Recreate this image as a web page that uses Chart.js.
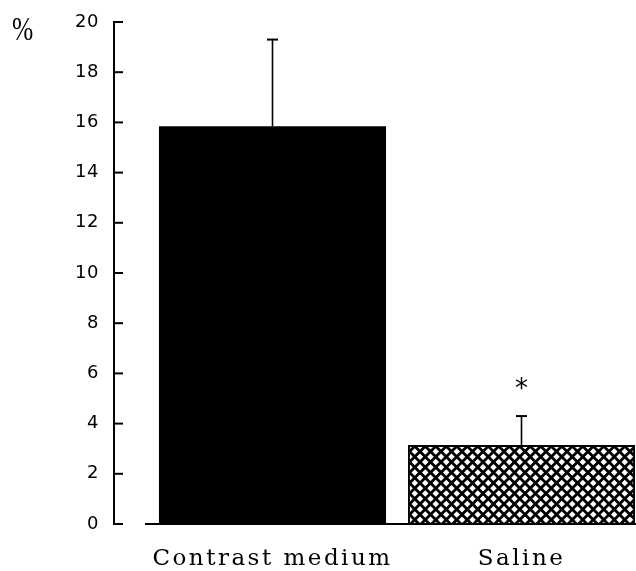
<!DOCTYPE html>
<html>
<head>
<meta charset="utf-8">
<script src="https://cdn.jsdelivr.net/npm/chart.js@4.4.1/dist/chart.umd.min.js"></script>
<style>
  html, body { margin: 0; padding: 0; background: #fff; overflow: hidden; }
  #wrap { width: 660px; height: 571px; }
</style>
</head>
<body>
<div id="wrap"><canvas id="chart" width="660" height="571"></canvas></div>
<script>
const groups = ['Contrast medium', 'Saline'];
const means = [15.85, 3.15];
const errors = [3.45, 1.15];
const marks = ['', '*'];
const yTicks = [0, 2, 4, 6, 8, 10, 12, 14, 16, 18, 20];

// cross-hatch for the saline bar
function makeHatch() {
  const tile = document.createElement('canvas');
  tile.width = 21;
  tile.height = 21;
  const c = tile.getContext('2d');
  c.fillStyle = '#fff';
  c.fillRect(0, 0, 21, 21);
  c.strokeStyle = '#000';
  c.lineWidth = 2.8;
  for (let k = -42; k <= 42; k += 10.5) {
    c.beginPath();
    c.moveTo(k, 0);
    c.lineTo(k + 21, 21);
    c.stroke();
    c.beginPath();
    c.moveTo(k, 21);
    c.lineTo(k + 21, 0);
    c.stroke();
  }
  return c.createPattern(tile, 'repeat');
}

const ctx = document.getElementById('chart').getContext('2d');
const hatch = makeHatch();

const decor = {
  id: 'decor',
  beforeDraw: (chart) => {
    // wide spacing for the category labels (x labels are drawn first)
    chart.ctx.letterSpacing = '2.5px';
  },
  afterDatasetsDraw: (chart) => {
    const { ctx, scales } = chart;
    const y = scales.y;
    const meta = chart.getDatasetMeta(0);
    ctx.save();
    ctx.letterSpacing = '0px';
    ctx.strokeStyle = '#000';
    ctx.fillStyle = '#000';
    meta.data.forEach((bar, i) => {
      const top = y.getPixelForValue(means[i] + errors[i]);
      ctx.lineWidth = 1.6;
      ctx.beginPath();
      ctx.moveTo(bar.x, bar.y);
      ctx.lineTo(bar.x, top);
      ctx.stroke();
      ctx.lineWidth = 2;
      ctx.beginPath();
      ctx.moveTo(bar.x - 5.5, top);
      ctx.lineTo(bar.x + 5.5, top);
      ctx.stroke();
      if (marks[i]) {
        ctx.font = '26px "DejaVu Sans"';
        ctx.textAlign = 'center';
        ctx.textBaseline = 'alphabetic';
        ctx.fillText(marks[i], bar.x, top - 19);
      }
    });

    // axes
    const zero = y.getPixelForValue(0);
    ctx.lineWidth = 2;
    ctx.beginPath();
    ctx.moveTo(114, y.getPixelForValue(20));
    ctx.lineTo(114, zero);
    ctx.stroke();
    yTicks.forEach((v) => {
      const py = y.getPixelForValue(v);
      ctx.beginPath();
      ctx.moveTo(113, py);
      ctx.lineTo(123, py);
      ctx.stroke();
    });
    ctx.beginPath();
    ctx.moveTo(145, zero);
    ctx.lineTo(chart.width, zero);
    ctx.stroke();

    ctx.font = '34px "Liberation Serif"';
    ctx.textAlign = 'left';
    ctx.textBaseline = 'alphabetic';
    ctx.translate(12, 40);
    ctx.scale(0.75, 1);
    ctx.fillText('%', 0, 0);
    ctx.restore();
    // y tick labels (ticks.z: 1) are drawn after this
    ctx.letterSpacing = '0.5px';
  },
};

new Chart(ctx, {
  type: 'bar',
  data: {
    labels: groups,
    datasets: [
      {
        data: means,
        backgroundColor: ['#000', hatch],
        borderColor: '#000',
        borderWidth: [0, 2],
        borderSkipped: 'bottom',
        barPercentage: 0.912,
        categoryPercentage: 1,
      },
    ],
  },
  options: {
    responsive: false,
    animation: false,
    layout: { padding: { top: 22, right: 14, left: 0, bottom: 0 } },
    plugins: {
      legend: { display: false },
      tooltip: { enabled: false },
    },
    scales: {
      x: {
        grid: { display: false, drawTicks: false },
        border: { display: false },
        ticks: {
          color: '#000',
          padding: 21,
          font: { family: '"DejaVu Serif"', size: 23 },
        },
        afterFit: (scale) => {
          scale.height = 47;
          scale.paddingLeft = 0;
          scale.paddingRight = 0;
        },
      },
      y: {
        min: 0,
        max: 20,
        grid: { display: false, drawTicks: false },
        border: { display: false },
        afterBuildTicks: (scale) => {
          scale.ticks = yTicks.map((v) => ({ value: v }));
        },
        ticks: {
          z: 1,
          color: '#000',
          padding: 49,
          font: { family: '"DejaVu Sans"', size: 18 },
        },
        afterFit: (scale) => {
          scale.width = 148;
          scale.paddingTop = 0;
          scale.paddingBottom = 0;
        },
      },
    },
  },
  plugins: [decor],
});
</script>
</body>
</html>
